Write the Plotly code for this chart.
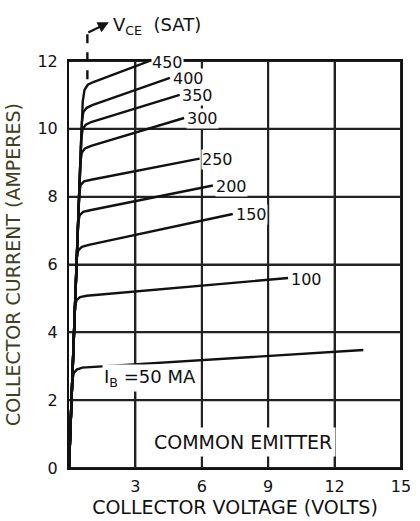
import plotly.graph_objects as go

# Collector characteristics, common-emitter configuration
base_currents = ["50", "100", "150", "200", "250", "300", "350", "400", "450"]

v_50 = [0, 0.15, 0.22, 0.35, 0.6, 13.3]
i_50 = [0, 2.6, 2.8, 2.9, 2.96, 3.48]
v_100 = [0, 0.27, 0.34, 0.5, 0.8, 9.9]
i_100 = [0, 4.75, 4.95, 5.04, 5.08, 5.6]
v_150 = [0, 0.35, 0.42, 0.58, 0.9, 7.4]
i_150 = [0, 6.2, 6.42, 6.52, 6.58, 7.49]
v_200 = [0, 0.41, 0.48, 0.64, 0.95, 6.5]
i_200 = [0, 7.2, 7.45, 7.55, 7.6, 8.33]
v_250 = [0, 0.46, 0.53, 0.68, 1.0, 5.9]
i_250 = [0, 8.1, 8.35, 8.45, 8.5, 9.12]
v_300 = [0, 0.51, 0.58, 0.72, 1.0, 5.2]
i_300 = [0, 9.0, 9.3, 9.42, 9.5, 10.32]
v_350 = [0, 0.55, 0.62, 0.76, 1.0, 5.0]
i_350 = [0, 9.7, 10.0, 10.12, 10.2, 11.0]
v_400 = [0, 0.58, 0.65, 0.8, 1.05, 4.56]
i_400 = [0, 10.2, 10.5, 10.62, 10.7, 11.5]
v_450 = [0, 0.62, 0.7, 0.85, 1.1, 3.64]
i_450 = [0, 10.8, 11.15, 11.3, 11.38, 12.0]

voltages = [v_50, v_100, v_150, v_200, v_250, v_300, v_350, v_400, v_450]
currents = [i_50, i_100, i_150, i_200, i_250, i_300, i_350, i_400, i_450]

v_sat = 0.83
x_ticks = [3, 6, 9, 12, 15]
y_ticks = [0, 2, 4, 6, 8, 10, 12]
X_MAX, Y_MAX = 15, 12

FONT = "DejaVu Sans"
INK = "#111111"
GRID = "#222222"
OLIVE = "#3f3f22"

fig = go.Figure()

# Grid: one line trace per tick value, under the curves
for xv in x_ticks:
    fig.add_trace(go.Scatter(x=[xv, xv], y=[0, Y_MAX], mode="lines",
                             line=dict(color=GRID, width=2),
                             hoverinfo="skip", showlegend=False))
for yv in y_ticks:
    fig.add_trace(go.Scatter(x=[0, X_MAX], y=[yv, yv], mode="lines",
                             line=dict(color=GRID, width=2),
                             hoverinfo="skip", showlegend=False))

for v, i in zip(voltages, currents):
    fig.add_trace(go.Scatter(x=v, y=i, mode="lines",
                             line=dict(color=INK, width=2.4),
                             hoverinfo="skip", showlegend=False))

annotations = []
# Base-current labels at the end of each curve (50 mA has its own label)
for name, v, i in zip(base_currents[1:], voltages[1:], currents[1:]):
    annotations.append(dict(x=v[-1] + 0.08, y=i[-1], xref="x", yref="y",
                            yshift=-1,
                            text=name, showarrow=False, xanchor="left",
                            yanchor="middle", bgcolor="white", borderpad=0,
                            font=dict(family=FONT, size=16, color=INK)))

annotations.append(dict(x=1.5, y=2.66, xref="x", yref="y",
                        text="I<sub>B</sub> =50 MA", showarrow=False,
                        xanchor="left", yanchor="middle", bgcolor="white",
                        font=dict(family=FONT, size=18, color=INK)))
annotations.append(dict(x=7.85, y=0.78, xref="x", yref="y",
                        text="COMMON EMITTER", showarrow=False,
                        xanchor="center", yanchor="middle", bgcolor="white",
                        borderpad=3,
                        font=dict(family=FONT, size=19, color=INK)))

# Saturation marker: dashed line with an arrow pointing to its label
annotations.append(dict(x=0.12, y=1.095, xref="paper", yref="paper",
                        ax=-22, ay=11, axref="pixel", ayref="pixel",
                        text="", showarrow=True, arrowhead=2, arrowsize=1,
                        arrowwidth=2.2, arrowcolor=INK))
annotations.append(dict(x=0.128, y=1.085, xref="paper", yref="paper",
                        text="V<sub>CE</sub>  (SAT)", showarrow=False,
                        xanchor="left", yanchor="middle",
                        font=dict(family=FONT, size=18, color=INK)))

shapes = [dict(type="line", xref="paper", yref="paper",
               x0=v_sat / X_MAX, x1=v_sat / X_MAX, y0=0.955, y1=1.07,
               line=dict(color=INK, width=2.4, dash="dash"))]

fig.update_layout(
    width=420, height=521,
    margin=dict(l=69, r=9, t=61, b=50),
    paper_bgcolor="white", plot_bgcolor="white",
    annotations=annotations, shapes=shapes,
    font=dict(family=FONT, color=INK),
    xaxis=dict(range=[0, X_MAX], tickvals=x_ticks,
               ticks="outside", ticklen=3, tickcolor="white",
               showgrid=True, gridcolor=GRID, gridwidth=2,
               showline=True, linecolor=INK, linewidth=2, mirror=True,
               zeroline=False, tickfont=dict(size=16, color=INK),
               title=dict(text="COLLECTOR VOLTAGE (VOLTS)", standoff=2,
                          font=dict(size=19, color=INK))),
    yaxis=dict(range=[0, Y_MAX], tickvals=y_ticks,
               ticks="outside", ticklen=6, tickcolor="white",
               showgrid=True, gridcolor=GRID, gridwidth=2,
               showline=True, linecolor=INK, linewidth=2, mirror=True,
               zeroline=False, tickfont=dict(size=16, color=INK),
               title=dict(text="COLLECTOR CURRENT (AMPERES)", standoff=12,
                          font=dict(size=19, color=OLIVE))),
)

fig.write_html("out.html")
